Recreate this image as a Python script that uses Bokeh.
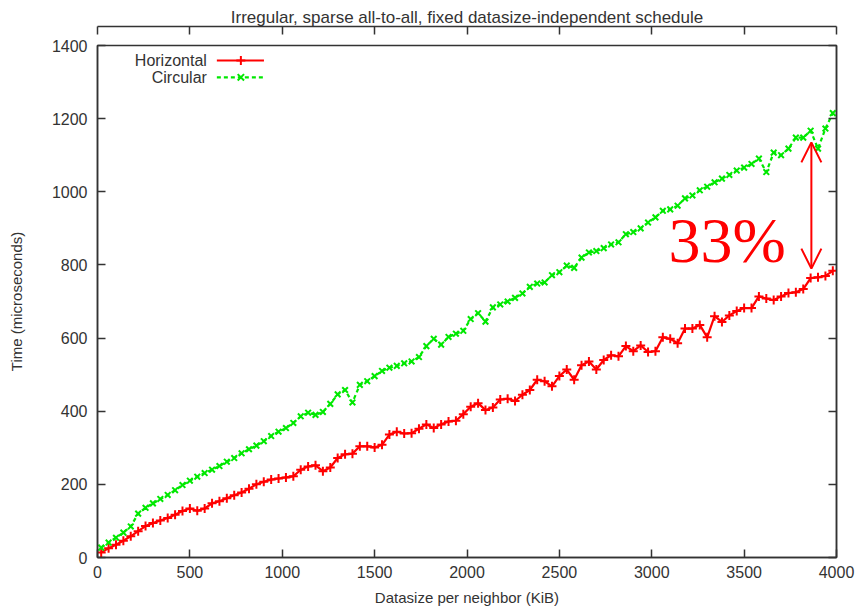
from bokeh.plotting import figure
from bokeh.models import (LinearAxis, SingleIntervalTicker, Arrow, OpenHead, Label, Title)
from bokeh.embed import file_html
from bokeh.resources import INLINE

# Datasize per neighbor (KiB) and measured times (microseconds)
datasize = [20 + 40 * i for i in range(100)]

horizontal = [14, 25, 35, 46, 58, 72, 86, 94, 101, 108,
              117, 127, 134, 128, 134, 148, 154, 162, 170, 178,
              188, 200, 207, 213, 216, 219, 222, 240, 249, 252,
              236, 246, 272, 282, 284, 304, 304, 301, 308, 336,
              344, 339, 340, 352, 364, 354, 364, 372, 374, 392,
              412, 422, 403, 410, 432, 434, 428, 445, 458, 486,
              482, 468, 496, 514, 486, 526, 536, 514, 540, 553,
              550, 578, 564, 580, 562, 564, 602, 598, 586, 626,
              626, 636, 602, 660, 644, 662, 674, 682, 682, 714,
              708, 704, 714, 723, 725, 734, 764, 766, 770, 784]

circular = [27, 41, 54, 68, 85, 120, 136, 148, 160, 171,
            184, 198, 210, 221, 231, 240, 250, 262, 272, 285,
            296, 306, 318, 332, 344, 354, 368, 386, 396, 390,
            398, 420, 446, 458, 424, 472, 482, 496, 510, 519,
            524, 531, 536, 548, 578, 598, 582, 603, 612, 620,
            652, 668, 645, 684, 692, 700, 710, 722, 740, 749,
            752, 772, 780, 798, 792, 820, 834, 838, 846, 856,
            862, 884, 890, 900, 916, 930, 948, 952, 962, 982,
            990, 1004, 1014, 1026, 1036, 1046, 1058, 1066, 1076, 1091,
            1054, 1107, 1100, 1118, 1148, 1148, 1167, 1118, 1173, 1215]

series_names = ["Horizontal", "Circular"]
chart_title = "Irregular, sparse all-to-all, fixed datasize-independent schedule"

# Annotation: gap between the two schedules at the largest sizes
gap_x = 3864
gap_low = 790
gap_high = 1135
gap_text = "33%"

RED = "#ff0000"
GREEN = "#00e800"
AXIS = "#333333"
FONT = "Liberation Sans"
FS = "16px"

p = figure(width=860, height=608, output_backend="svg", toolbar_location=None,
           x_range=(0, 4000), y_range=(0, 1400), title=chart_title)
p.min_border_left = 97
p.min_border_right = 24
p.min_border_top = 45
p.min_border_bottom = 51
p.background_fill_color = "white"
p.border_fill_color = "white"
p.outline_line_color = AXIS
p.outline_line_width = 1.5
p.grid.visible = False

p.title.align = "center"
p.title.text_font = FONT
p.title.text_font_size = "17px"
p.title.text_font_style = "normal"
p.title.text_color = "#333333"
p.title.standoff = 0

# blank spacer between the frame and the title
p.add_layout(Title(text=" ", text_font_size="16px", standoff=0), "above")

xt = SingleIntervalTicker(interval=500, num_minor_ticks=0)
yt = SingleIntervalTicker(interval=200, num_minor_ticks=0)

for ax, tk in ((p.xaxis[0], xt), (p.yaxis[0], yt)):
    ax.ticker = tk
    ax.major_tick_in = 8
    ax.major_tick_out = 0
    ax.minor_tick_line_color = None
    ax.axis_line_color = AXIS
    ax.axis_line_width = 1.5
    ax.major_tick_line_color = AXIS
    ax.major_tick_line_width = 1.5
    ax.major_label_text_font = FONT
    ax.major_label_text_font_size = FS
    ax.major_label_text_color = "#333333"
    ax.axis_label_text_font = FONT
    ax.axis_label_text_font_size = "15px"
    ax.axis_label_text_font_style = "normal"
    ax.axis_label_text_color = "#333333"

p.xaxis[0].axis_label = "Datasize per neighbor (KiB)"
p.xaxis[0].major_label_standoff = 8
p.xaxis[0].axis_label_standoff = 8
p.yaxis[0].axis_label = "Time (microseconds)"
p.yaxis[0].major_label_standoff = 10
p.yaxis[0].axis_label_standoff = 24

# mirrored ticks on the top and right edges
for side, tk in (("above", SingleIntervalTicker(interval=500, num_minor_ticks=0)),
                 ("right", SingleIntervalTicker(interval=200, num_minor_ticks=0))):
    ax = LinearAxis(ticker=tk)
    ax.major_tick_in = 8
    ax.major_tick_out = 0
    ax.minor_tick_line_color = None
    ax.axis_line_color = AXIS
    ax.axis_line_width = 1.5
    ax.major_tick_line_color = AXIS
    ax.major_tick_line_width = 1.5
    ax.major_label_text_font_size = "0px"
    ax.major_label_text_color = None
    ax.major_label_standoff = 0
    p.add_layout(ax, side)

# data series
p.line(datasize, horizontal, line_color=RED, line_width=2.2)
p.scatter(datasize, horizontal, marker="cross", size=9, line_color=RED, line_width=2)
p.line(datasize, circular, line_color=GREEN, line_width=2.2, line_dash="4 3")
p.scatter(datasize, circular, marker="x", size=8, line_color=GREEN, line_width=2)

# legend, gnuplot style: label on the left, sample on the right
leg_x0, leg_x1, leg_mid, leg_text_x = 646, 901, 776, 592
leg_rows = [1359, 1313]
styles = [dict(color=RED, dash="solid", marker="cross"),
          dict(color=GREEN, dash="4 3", marker="x")]
for name, yrow, st in zip(series_names, leg_rows, styles):
    p.line([leg_x0, leg_x1], [yrow, yrow], line_color=st["color"], line_width=2.2,
           line_dash=st["dash"])
    p.scatter([leg_mid], [yrow], marker=st["marker"], size=9, line_color=st["color"],
              line_width=2)
    p.add_layout(Label(x=leg_text_x, y=yrow, text=name, text_align="right",
                       text_baseline="middle", text_font=FONT, text_font_size=FS,
                       text_color="#333333"))

# double-headed arrow with the relative difference
p.add_layout(Arrow(x_start=gap_x, y_start=gap_low, x_end=gap_x, y_end=gap_high,
                   line_color=RED, line_width=2,
                   start=OpenHead(size=20, line_color=RED, line_width=2),
                   end=OpenHead(size=20, line_color=RED, line_width=2)))
p.add_layout(Label(x=3090, y=868, text=gap_text, text_align="left",
                   text_baseline="alphabetic", text_font="Liberation Serif",
                   text_font_size="64px", text_color=RED))

open("out.html", "w").write(file_html(p, INLINE))
